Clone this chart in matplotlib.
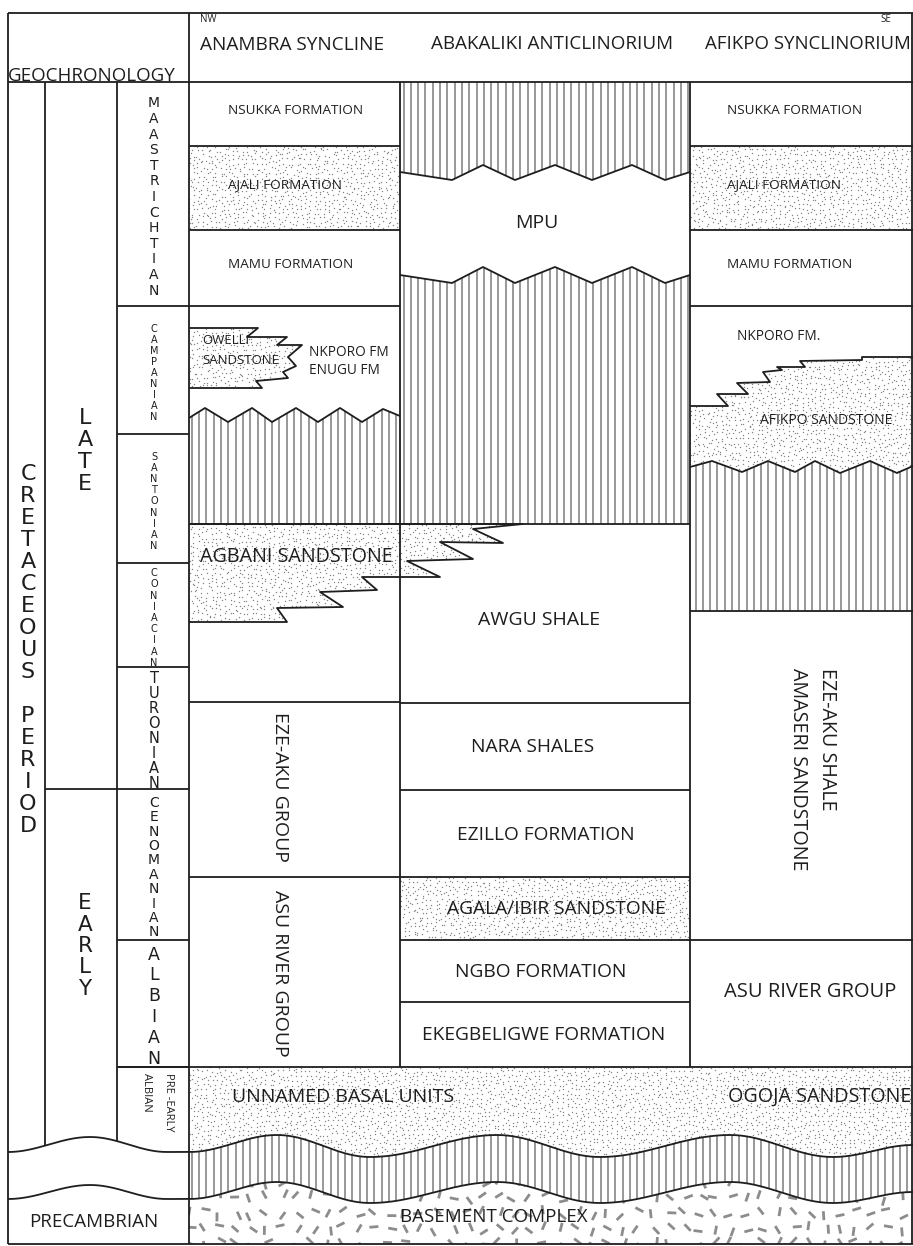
import numpy as np
import matplotlib.pyplot as plt
from matplotlib.patches import Polygon
from matplotlib.collections import LineCollection

plt.rcParams['font.family'] = ['Open Sans', 'DejaVu Sans']

W, H = 913, 1246

# ---- geochronology ------------------------------------------------------
stages = ["MAASTRICHTIAN", "CAMPANIAN", "SANTONIAN", "CONIACIAN",
          "TURONIAN", "CENOMANIAN", "ALBIAN"]
stage_edges = [82, 306, 434, 563, 667, 789, 940, 1067]
late_early_boundary = 789
basal_top = 1067

# ---- structural columns --------------------------------------------------
columns = ["ANAMBRA SYNCLINE", "ABAKALIKI ANTICLINORIUM", "AFIKPO SYNCLINORIUM"]
col_edges = [189, 400, 690, 913]

# plain layered units: (name, top, base, lithology)
anambra_units = [("NSUKKA FORMATION", 82, 146, "shale"),
                 ("AJALI FORMATION", 146, 230, "sand"),
                 ("MAMU FORMATION", 230, 306, "shale")]
anambra_groups = [("EZE-AKU GROUP", 702, 877), ("ASU RIVER GROUP", 877, 1067)]

abakaliki_units = [("NARA SHALES", 703, 790, "shale"),
                   ("EZILLO FORMATION", 790, 877, "shale"),
                   ("AGALA/IBIR SANDSTONE", 877, 940, "sand"),
                   ("NGBO FORMATION", 940, 1002, "shale"),
                   ("EKEGBELIGWE FORMATION", 1002, 1067, "shale")]

afikpo_units = [("NSUKKA FORMATION", 82, 146, "shale"),
                ("AJALI FORMATION", 146, 230, "sand"),
                ("MAMU FORMATION", 230, 306, "shale")]
afikpo_hiatus_base = 611
afikpo_asu_top = 940

# unconformity traces (x, y)
mpu_top_x = [400, 452, 483, 515, 555, 592, 632, 665, 690]
mpu_top_y = [172, 180, 165, 180, 165, 180, 165, 180, 172]
mpu_base_y = [275, 283, 267, 283, 267, 283, 267, 283, 275]

campanian_x = [189, 205, 228, 252, 272, 296, 318, 340, 362, 383, 400]
campanian_y = [418, 408, 422, 408, 422, 408, 422, 408, 422, 409, 416]
hiatus_base = 524

afikpo_ss_x = [690, 712, 742, 768, 795, 815, 840, 870, 897, 913]
afikpo_ss_y = [467, 461, 472, 461, 472, 461, 473, 461, 473, 466]

# interfingering sand bodies
owelli = [(189, 328), (258, 328), (247, 337), (287, 337), (277, 345),
          (302, 345), (288, 357), (296, 366), (283, 372), (288, 378),
          (256, 381), (262, 388), (189, 388)]
agbani = [(189, 524), (523, 524), (473, 529), (503, 543), (440, 542),
          (473, 559), (407, 561), (440, 577), (362, 577), (377, 590),
          (320, 592), (343, 607), (277, 608), (287, 622), (189, 622)]
afikpo_ss_top = [(690, 406), (728, 406), (717, 394), (748, 394), (737, 383),
                 (770, 382), (763, 372), (782, 370), (777, 367), (805, 367),
                 (800, 361), (862, 360), (862, 357), (913, 357)]

# basal unconformity waves
base_wave_x = [8, 90, 167, 189, 277, 370, 497, 600, 730, 833, 913]
base_wave_top = [1152, 1137, 1152, 1152, 1135, 1157, 1135, 1157, 1135, 1157, 1145]
base_wave_bot = [1199, 1185, 1199, 1199, 1182, 1203, 1182, 1203, 1182, 1203, 1192]

INK = '#1e1e1e'
HATCH = '#7c7c7c'
DOT = '#858585'
LW = 1.3

fig = plt.figure(figsize=(W / 100, H / 100), dpi=100)
ax = fig.add_axes([0, 0, 1, 1])
ax.set_xlim(0, W)
ax.set_ylim(H, 0)
ax.axis('off')

rng = np.random.default_rng(11)


def smooth(xk, yk, n=40):
    xs, ys = [], []
    for i in range(len(xk) - 1):
        t = np.linspace(0, 1, n, endpoint=False)
        s = (1 - np.cos(np.pi * t)) / 2
        xs.append(xk[i] + (xk[i + 1] - xk[i]) * t)
        ys.append(yk[i] + (yk[i + 1] - yk[i]) * s)
    xs.append([xk[-1]])
    ys.append([yk[-1]])
    return np.concatenate(xs), np.concatenate(ys)


def region(xy):
    p = Polygon(xy, closed=True, facecolor='white', edgecolor='none', zorder=1)
    ax.add_patch(p)
    return p


def stipple(xy, step=4.5):
    p = region(xy)
    xy = np.asarray(xy, float)
    (x0, y0), (x1, y1) = xy.min(0), xy.max(0)
    gx, gy = np.meshgrid(np.arange(x0, x1 + step, step), np.arange(y0, y1 + step, step))
    pts = np.c_[gx.ravel(), gy.ravel()] + rng.uniform(-1.8, 1.8, (gx.size, 2))
    sc = ax.scatter(pts[:, 0], pts[:, 1], s=1.0, c=DOT, linewidths=0, zorder=2)
    sc.set_clip_path(p)


def vhatch(xy, spacing=7.3):
    p = region(xy)
    xy = np.asarray(xy, float)
    (x0, y0), (x1, y1) = xy.min(0), xy.max(0)
    xs = np.arange(np.ceil((x0 - 2) / spacing) * spacing + 2, x1, spacing)
    lc = LineCollection([[(x, y0), (x, y1)] for x in xs], colors=HATCH,
                        linewidths=1.1, zorder=2)
    ax.add_collection(lc)
    lc.set_clip_path(p)


def granite(xy, step=15.5):
    p = region(xy)
    xy = np.asarray(xy, float)
    (x0, y0), (x1, y1) = xy.min(0), xy.max(0)
    gx, gy = np.meshgrid(np.arange(x0, x1 + step, step), np.arange(y0, y1 + step, step))
    cx = gx.ravel() + rng.uniform(-4, 4, gx.size)
    cy = gy.ravel() + rng.uniform(-4, 4, gx.size)
    ang = rng.uniform(0, np.pi, gx.size)
    dx, dy = 4.5 * np.cos(ang), 4.5 * np.sin(ang)
    segs = [[(a - u, b - v), (a + u, b + v)] for a, b, u, v in zip(cx, cy, dx, dy)]
    lc = LineCollection(segs, colors='#8c8c8c', linewidths=2.0, capstyle='butt', zorder=2)
    ax.add_collection(lc)
    lc.set_clip_path(p)


def line(xs, ys, lw=LW):
    ax.plot(xs, ys, color=INK, lw=lw, zorder=5, solid_capstyle='butt')


def hline(y, x0, x1):
    line([x0, x1], [y, y])


def vline(x, y0, y1):
    line([x, x], [y0, y1])


def stack(text, x, yc, pitch, size):
    # upright letters stacked one below the other, `pitch` px apart
    ys = yc + (np.arange(len(text)) - (len(text) - 1) / 2) * pitch
    for ch, y in zip(text, ys):
        if ch != ' ':
            ax.text(x, y, ch, ha='center', va='center', fontsize=size,
                    family='DejaVu Sans', color=INK, zorder=6)


def label(x, y, s, size=10, ha='center', **kw):
    ax.text(x, y, s, ha=ha, va='center', fontsize=size, color=INK, zorder=6, **kw)


def vlabel(x, ytop, s, size=12):
    ax.text(x, ytop, s, rotation=-90, rotation_mode='anchor', ha='left',
            va='center', fontsize=size, color=INK, zorder=6)


a0, a1 = col_edges[0], col_edges[1]
b0, b1 = col_edges[1], col_edges[2]
c0, c1 = col_edges[2], col_edges[3]

# ---- fills ---------------------------------------------------------------
wx_top, wy_top = smooth(base_wave_x, base_wave_top)
wx_bot, wy_bot = smooth(base_wave_x, base_wave_bot)
right = wx_top >= a0

# basal sandstone, hatched hiatus and basement
stipple([(a0, basal_top), (c1, basal_top)] + list(zip(wx_top[right][::-1], wy_top[right][::-1])))
vhatch(list(zip(wx_top[right], wy_top[right])) + list(zip(wx_bot[right][::-1], wy_bot[right][::-1])))
granite(list(zip(wx_bot[right], wy_bot[right])) + [(c1, 1244), (a0, 1244)])

# Anambra
for name, top, base, lith in anambra_units:
    if lith == "sand":
        stipple([(a0, top), (a1, top), (a1, base), (a0, base)])
stipple(owelli)
cx, cy = campanian_x, campanian_y
vhatch(list(zip(cx, cy)) + [(a1, hiatus_base), (a0, hiatus_base)])

# Abakaliki
mx_t, my_t = np.array(mpu_top_x), np.array(mpu_top_y)
my_b = np.array(mpu_base_y)
vhatch([(b0, stage_edges[0]), (b1, stage_edges[0])] + list(zip(mx_t[::-1], my_t[::-1])))
vhatch(list(zip(mx_t, my_b)) + [(b1, hiatus_base), (b0, hiatus_base)])
for name, top, base, lith in abakaliki_units:
    if lith == "sand":
        stipple([(b0, top), (b1, top), (b1, base), (b0, base)])
stipple(agbani)

# Afikpo
for name, top, base, lith in afikpo_units:
    if lith == "sand":
        stipple([(c0, top), (c1, top), (c1, base), (c0, base)])
stipple(afikpo_ss_top + list(zip(afikpo_ss_x[::-1], afikpo_ss_y[::-1])))
vhatch(list(zip(afikpo_ss_x, afikpo_ss_y)) + [(c1, afikpo_hiatus_base), (c0, afikpo_hiatus_base)])

# ---- frame and boundaries -----------------------------------------------
hline(13, 8, c1)
hline(82, 8, c1)
hline(1244, 8, c1)
vline(8, 13, 1244)
vline(a0, 13, 1244)
vline(c1 - 0.8, 13, 1244)
for x in (45, 117):
    vline(x, 82, np.interp(x, wx_top, wy_top))
line(wx_top, wy_top)
line(wx_bot, wy_bot)

for y in stage_edges[1:]:
    hline(y, 117, a0)
hline(late_early_boundary, 45, 117)

vline(b0, 82, basal_top)
vline(c0, 82, basal_top)
hline(basal_top, 117, c1)

for name, top, base, lith in anambra_units:
    hline(base, a0, a1)
for name, top, base in anambra_groups:
    hline(top, a0, a1)
line(cx, cy)
hline(hiatus_base, a0, b1)
ox, oy = zip(*owelli)
line(ox, oy)
gx_, gy_ = zip(*agbani)
line(gx_, gy_)

line(mx_t, my_t)
line(mx_t, my_b)
for name, top, base, lith in abakaliki_units:
    hline(top, b0, b1)

for name, top, base, lith in afikpo_units:
    hline(base, c0, c1)
fx, fy = zip(*afikpo_ss_top)
line(fx, fy)
line(afikpo_ss_x, afikpo_ss_y)
hline(afikpo_hiatus_base, c0, c1)
hline(afikpo_asu_top, c0, c1)

# ---- header --------------------------------------------------------------
ax.text(8, 81, "GEOCHRONOLOGY", ha='left', va='baseline', fontsize=13.5, color=INK, zorder=6)
label(200, 19, "NW", size=7, ha='left')
label(880, 19, "SE", size=7, ha='left')
label(200, 45, columns[0], size=13.7, ha='left')
label(552, 44, columns[1], size=13.6)
label(808, 44, columns[2], size=13.4)

# ---- time scale ----------------------------------------------------------
stack("CRETACEOUS PERIOD", 28, 650, 22.0, 16)
stack("LATE", 85, 451, 22.0, 16)
stack("EARLY", 85, 946, 21.3, 15.5)

stage_pitch = [15.6, 11.1, 11.1, 11.2, 14.9, 14.4, 20.8]
stage_size = [10, 7, 7, 7, 10.5, 10, 12.5]
for name, top, base, sp, fs in zip(stages, stage_edges[:-1], stage_edges[1:],
                                    stage_pitch, stage_size):
    stack(name, 154, (top + base) / 2 + 3, sp, fs)

vlabel(168, 1073, "PRE -EARLY", size=8)
vlabel(147, 1073, "ALBIAN", size=8)
label(94, 1222, "PRECAMBRIAN", size=13.5)

# ---- unit names ----------------------------------------------------------
for name, top, base, lith in anambra_units:
    label(228, (top + base) / 2 - 3, name, size=9.7, ha='left')
for name, top, base, lith in afikpo_units:
    label(727, (top + base) / 2 - 3, name, size=9.7, ha='left')

label(202, 340, "OWELLI", size=9.5, ha='left')
label(202, 361, "SANDSTONE", size=9.5, ha='left')
label(309, 352, "NKPORO FM", size=9.8, ha='left')
label(309, 371, "ENUGU FM", size=9.8, ha='left')
label(200, 557, "AGBANI SANDSTONE", size=14.2, ha='left')
vlabel(280, 712, anambra_groups[0][0], size=14)
vlabel(280, 890, anambra_groups[1][0], size=14)

label(537, 223, "MPU", size=14)
label(539, 620, "AWGU SHALE", size=14)
unit_x = [533, 546, 556, 541, 544]
for (name, top, base, lith), x in zip(abakaliki_units, unit_x):
    label(x, (top + base) / 2 + 1, name, size=13.8)

label(737, 336, "NKPORO FM.", size=9.8, ha='left')
label(760, 421, "AFIKPO SANDSTONE", size=10, ha='left')
vlabel(827, 668, "EZE-AKU SHALE", size=14.2)
vlabel(798, 668, "AMASERI SANDSTONE", size=14.2)
label(810, 992, "ASU RIVER GROUP", size=14.5)

label(232, 1097, "UNNAMED BASAL UNITS", size=14, ha='left')
label(911, 1097, "OGOJA SANDSTONE", size=14.2, ha='right')
label(494, 1217, "BASEMENT COMPLEX", size=13.5)

fig.savefig("out.png", dpi=100)
